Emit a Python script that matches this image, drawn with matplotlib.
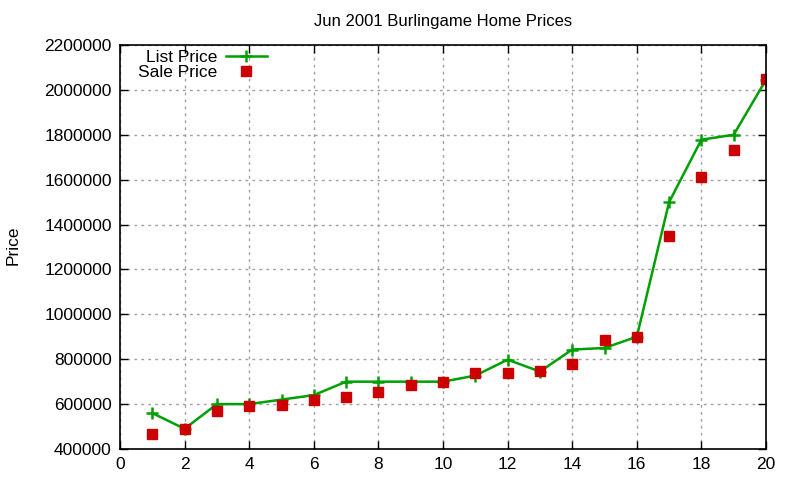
import matplotlib
matplotlib.use("Agg")
import matplotlib.pyplot as plt

plt.rcParams['font.family'] = ['Liberation Sans', 'DejaVu Sans']

house = list(range(1, 21))
list_price = [560000, 490000, 600000, 600000, 620000, 640000, 700000, 700000, 700000, 700000,
              727000, 798000, 745000, 843000, 850000, 900000, 1500000, 1778000, 1800000, 2045000]
sale_price = [468000, 489000, 571000, 592000, 596000, 618000, 633000, 654000, 685000, 699000,
              739000, 739000, 748000, 779000, 886000, 900000, 1350000, 1613000, 1732000, 2049000]

fig = plt.figure(figsize=(8, 4.8), dpi=100)
ax = fig.add_axes([0.15, 0.0646, 0.8075, 0.8417])

ax.plot(house, list_price, color="#00a000", linewidth=1.8, marker="+", markersize=9,
        markeredgewidth=1.8, label="List Price")
ax.plot(house, sale_price, linestyle="none", color="#cc0000", marker="s", markersize=7,
        label="Sale Price")

ax.set_xlim(0, 20)
ax.set_ylim(400000, 2200000)
ax.set_xticks(range(0, 21, 2))
ax.set_yticks(range(400000, 2200001, 200000))
ax.set_yticklabels([str(v) for v in range(400000, 2200001, 200000)])

ax.grid(True, color="#a0a0a0", linestyle=(0, (2, 3)), linewidth=1)
ax.tick_params(direction="in", top=True, right=True, length=6, width=1, labelsize=12.5, pad=6)
for s in ax.spines.values():
    s.set_linewidth(1.2)

ax.set_title("Jun 2001 Burlingame Home Prices", fontsize=12, pad=14)
fig.text(0.007, 0.49, "Price", rotation=90, va="center", ha="left", fontsize=12.5)

leg = ax.legend(loc="upper left", bbox_to_anchor=(0.0125, 1.013), markerfirst=False, frameon=False,
                fontsize=12.5, handlelength=2.4, borderaxespad=0.2, labelspacing=0.0, handletextpad=0.45)
for t in leg.get_texts():
    t.set_ha("right")
    t.set_position((0, 0))

fig.savefig("out.png", dpi=100)
